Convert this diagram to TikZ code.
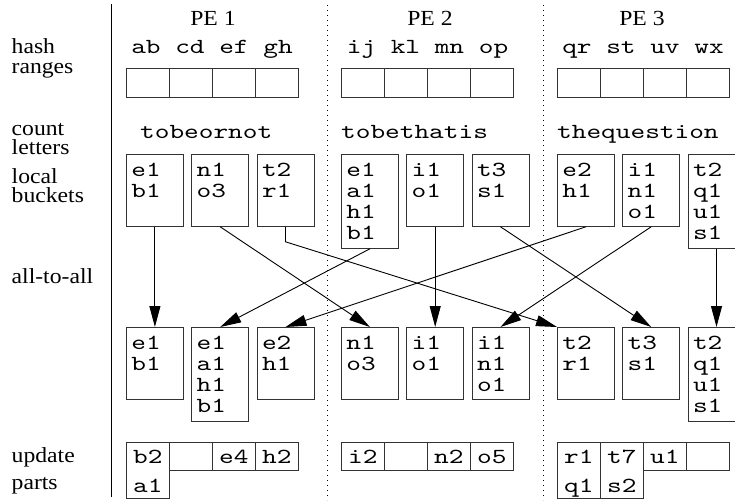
\documentclass[tikz,border=0pt]{standalone}
\usepackage{fontspec}
\setmainfont{Liberation Serif}[FakeStretch=1.1]
\setmonofont{lmmono10-regular.otf}[FakeStretch=1.3]
\usepackage{tikz}
\usetikzlibrary{arrows.meta,positioning}
\definecolor{rule}{HTML}{333333}
\tikzset{lab/.style={font=\fontsize{21.5}{19.5}\selectfont,text width=100pt,align=left,inner sep=0pt,anchor=base west},pe/.style={font=\fontsize{21.5}{19.5}\selectfont,inner sep=0pt,anchor=base},word/.style={font=\ttfamily\fontsize{21.5}{21}\selectfont,inner sep=0pt},cell/.style={draw=rule,line width=.8pt,minimum width=43pt,minimum height=29pt,inner sep=0pt,anchor=north west},bucket/.style={draw=rule,line width=.8pt,font=\ttfamily\fontsize{21.5}{21}\selectfont,text width=47pt,inner xsep=5pt,inner ysep=0pt,text height=22.5pt,text depth=49.5pt,align=left,anchor=north west},tallbucket/.style={bucket,text depth=71.5pt},part/.style={draw=rule,line width=.8pt,font=\ttfamily\fontsize{21.5}{29}\selectfont,text width=43pt,inner sep=0pt,align=center,text height=21pt,text depth=7pt,anchor=north west},tallpart/.style={part,text depth=35pt},flow/.style={-{Triangle[length=21pt,width=11pt]},line width=.9pt},sep/.style={line width=.8pt,dash pattern=on 1.2pt off 3.8pt}}

\begin{document}
\begin{tikzpicture}[x=1pt,y=-1pt]
\useasboundingbox (0,0) rectangle (735,500);
% row labels and column separators
\node[lab] (l1) at (11.5,54) {hash\\ranges};
\node[lab] (l2) at (11.5,135) {count\\letters};
\node[lab] (l3) at (11.5,183) {local\\buckets};
\node[lab] (l4) at (11.5,283) {all-to-all};
\node[lab] (l5) at (11.5,462) {update\\[7.5pt]parts};
\draw[line width=.9pt] (111.5,4) -- (111.5,497);
\draw[sep] (327,5) -- (327,500);
\draw[sep] (543,5) -- (543,500);
% processors, hash ranges, input strings
\node[pe] (pe1) at (213,26) {PE 1};
\node[pe] (pe2) at (430,26) {PE 2};
\node[pe] (pe3) at (642,26) {PE 3};
\node[word,anchor=base] (r1) at (212,53.5) {ab cd ef gh};
\node[word,anchor=base] (r2) at (427.5,53.5) {ij kl mn op};
\node[word,anchor=base] (r3) at (643,53.5) {qr st uv wx};
\foreach \c/\x in {1/126,2/341,3/557}
  \foreach \k in {1,...,4}
    \node[cell] (h\c\k) at (\x+43*\k-43,68) {};
\node[word,anchor=base west] (s1) at (140,138) {tobeornot};
\node[word,anchor=base west] (s2) at (341,138) {tobethatis};
\node[word,anchor=base west] (s3) at (557,138) {thequestion};
% local buckets
\node[bucket] (u11) at (126,154) {e1\\b1};
\node[bucket,right=7.5pt of u11.north east,anchor=north west] (u12) {n1\\o3};
\node[bucket,right=7.5pt of u12.north east,anchor=north west] (u13) {t2\\r1};
\node[tallbucket] (u21) at (341,154) {e1\\a1\\h1\\b1};
\node[bucket,right=7.5pt of u21.north east,anchor=north west] (u22) {i1\\o1};
\node[bucket,right=7.5pt of u22.north east,anchor=north west] (u23) {t3\\s1};
\node[bucket] (u31) at (557,154) {e2\\h1};
\node[bucket,right=7.5pt of u31.north east,anchor=north west] (u32) {i1\\n1\\o1};
\node[tallbucket,right=7.5pt of u32.north east,anchor=north west] (u33) {t2\\q1\\u1\\s1};
% received buckets
\node[bucket] (v11) at (126,327) {e1\\b1};
\node[tallbucket,right=7.5pt of v11.north east,anchor=north west] (v12) {e1\\a1\\h1\\b1};
\node[bucket,right=7.5pt of v12.north east,anchor=north west] (v13) {e2\\h1};
\node[bucket] (v21) at (341,327) {n1\\o3};
\node[bucket,right=7.5pt of v21.north east,anchor=north west] (v22) {i1\\o1};
\node[bucket,right=7.5pt of v22.north east,anchor=north west] (v23) {i1\\n1\\o1};
\node[bucket] (v31) at (557,327) {t2\\r1};
\node[bucket,right=7.5pt of v31.north east,anchor=north west] (v32) {t3\\s1};
\node[tallbucket,right=7.5pt of v32.north east,anchor=north west] (v33) {t2\\q1\\u1\\s1};
% all-to-all exchange
\draw[flow] (u11.south) -- (v11.north);
\draw[flow] (u12.south) -- (v21.north);
\draw[flow] (u13.south) -- ++(0,15) -- (v31.north west);
\draw[flow] (u21.south) -- (v12.north);
\draw[flow] (u22.south) -- (v22.north);
\draw[flow] (u23.south) -- (v32.north);
\draw[flow] (u31.south) -- (v13.north);
\draw[flow] (u32.south) -- (v23.north);
\draw[flow] (u33.south) -- (v33.north);
% updated parts
\node[tallpart] (p11) at (126,442) {b2\\a1};
\node[part] (p12) at (169,442) {};
\node[part] (p13) at (212,442) {e4};
\node[part] (p14) at (255,442) {h2};
\node[part] (p21) at (341,442) {i2};
\node[part] (p22) at (384,442) {};
\node[part] (p23) at (427,442) {n2};
\node[part] (p24) at (470,442) {o5};
\node[tallpart] (p31) at (557,442) {r1\\q1};
\node[tallpart] (p32) at (600,442) {t7\\s2};
\node[part] (p33) at (643,442) {u1};
\node[part] (p34) at (686,442) {};
\end{tikzpicture}
\end{document}
